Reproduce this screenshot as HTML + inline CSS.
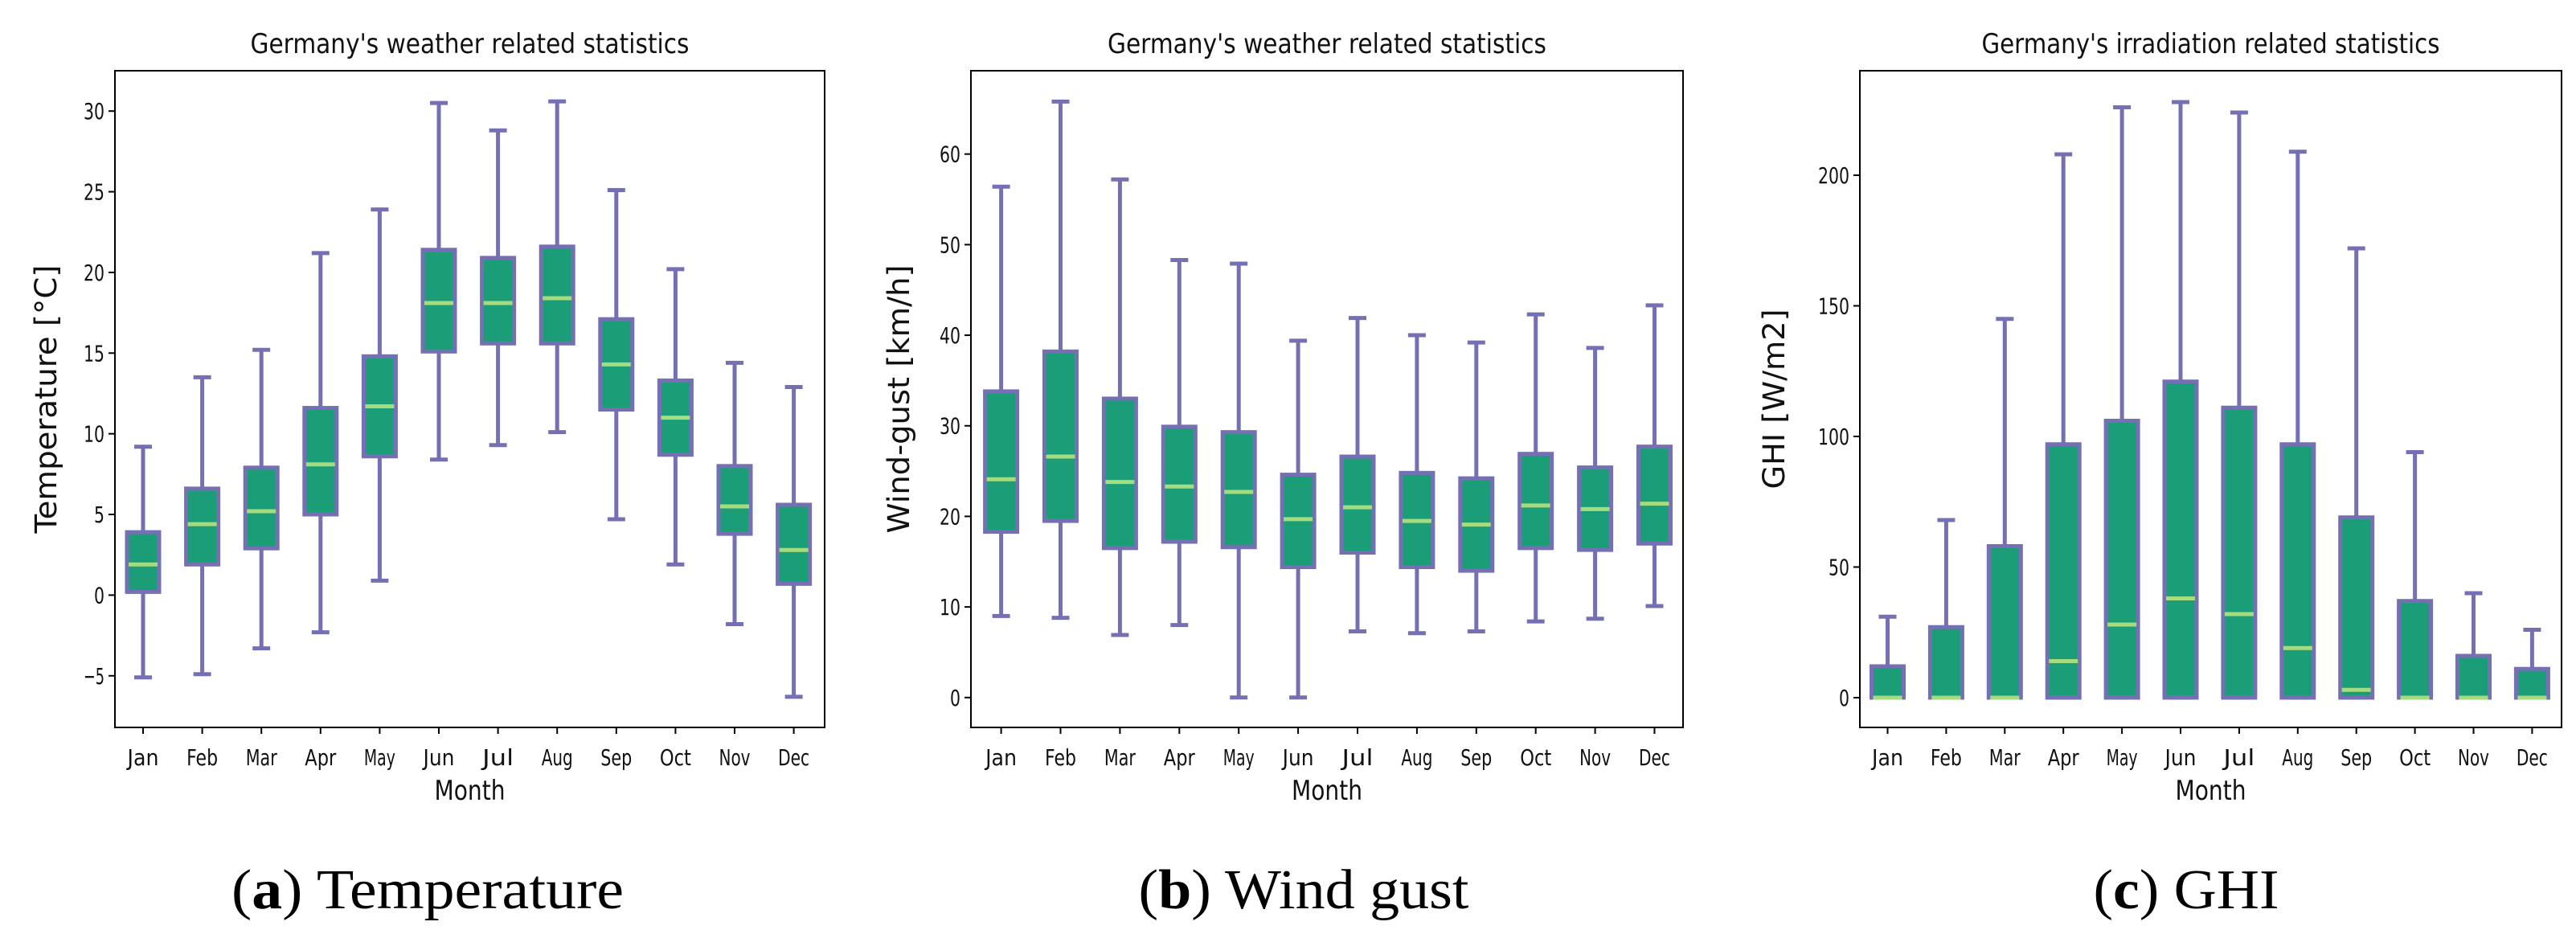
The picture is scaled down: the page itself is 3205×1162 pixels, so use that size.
<!DOCTYPE html>
<html><head><meta charset="utf-8"><style>
html,body{margin:0;padding:0;background:#fff;}
svg{display:block;font-family:"DejaVu Sans","Liberation Sans",sans-serif;}
</style></head><body>
<svg id="fig" width="3205" height="1162" viewBox="0 0 3205 1162" xmlns="http://www.w3.org/2000/svg"></svg>
<script>
const months = ["Jan","Feb","Mar","Apr","May","Jun","Jul","Aug","Sep","Oct","Nov","Dec"];
// temperature: [whisker low, q1, median, q3, whisker high]
const tempLo  = [-5.1,-4.9,-3.3,-2.3,0.9,8.4,9.3,10.1,4.7,1.9,-1.8,-6.3];
const tempQ1  = [0.2,1.9,2.9,5.0,8.6,15.1,15.6,15.6,11.5,8.7,3.8,0.7];
const tempMed = [1.9,4.4,5.2,8.1,11.7,18.1,18.1,18.4,14.3,11.0,5.5,2.8];
const tempQ3  = [3.9,6.6,7.9,11.6,14.8,21.4,20.9,21.6,17.1,13.3,8.0,5.6];
const tempHi  = [9.2,13.5,15.2,21.2,23.9,30.5,28.8,30.6,25.1,20.2,14.4,12.9];
const tempTicks = [-5,0,5,10,15,20,25,30];
const windLo  = [9.0,8.8,6.9,8.0,0,0,7.3,7.1,7.3,8.4,8.7,10.1];
const windQ1  = [18.3,19.5,16.5,17.2,16.6,14.4,16.0,14.4,14.0,16.5,16.3,17.0];
const windMed = [24.1,26.6,23.8,23.3,22.7,19.7,21.0,19.5,19.1,21.2,20.8,21.4];
const windQ3  = [33.8,38.2,33.0,29.9,29.3,24.6,26.6,24.8,24.2,26.9,25.4,27.7];
const windHi  = [56.4,65.8,57.2,48.3,47.9,39.4,41.9,40.0,39.2,42.3,38.6,43.3];
const windTicks = [0,10,20,30,40,50,60];
const ghiLo  = [0,0,0,0,0,0,0,0,0,0,0,0];
const ghiQ1  = [0,0,0,0,0,0,0,0,0,0,0,0];
const ghiMed = [0,0,0,14,28,38,32,19,3,0,0,0];
const ghiQ3  = [12,27,58,97,106,121,111,97,69,37,16,11];
const ghiHi  = [31,68,145,208,226,228,224,209,172,94,40,26];
const ghiTicks = [0,50,100,150,200];

const NS="http://www.w3.org/2000/svg";
const svg=document.getElementById('fig');
function mk(tag,attrs,parent){const e=document.createElementNS(NS,tag);for(const k in attrs)e.setAttribute(k,attrs[k]);(parent||svg).appendChild(e);return e;}
function txt(s,attrs,parent){const e=mk('text',attrs,parent);e.textContent=s;return e;}

function panel(cfg){
  const g=mk('g',{});
  
  
  const L=cfg.left,R=cfg.right,T=88,B=905;
  const y=v=>B-(v-cfg.ymin)/(cfg.ymax-cfg.ymin)*(B-T);
  const x=i=>cfg.x0+i*cfg.step;
  const t=txt(cfg.title,{x:(L+R)/2,y:66,'text-anchor':'middle','font-size':34,textLength:cfg.titleLen,lengthAdjust:'spacingAndGlyphs',fill:'#111'},g);
  
  
  cfg.ticks.forEach(v=>{
    mk('line',{x1:L-8,x2:L,y1:y(v),y2:y(v),stroke:'#000','stroke-width':2},g);
    const lbl=v<0?'\u2212'+Math.abs(v):String(v);
    const tl=txt(lbl,{x:L-13,y:y(v)+10,'text-anchor':'end','font-size':28,textLength:lbl.length*13,lengthAdjust:'spacingAndGlyphs',fill:'#111'},g);
    
    
  });
  months.forEach((m,i)=>{
    mk('line',{x1:x(i),x2:x(i),y1:B,y2:B+8,stroke:'#000','stroke-width':2},g);
    const tl=txt(m,{x:x(i),y:952,'text-anchor':'middle','font-size':28,textLength:m.length*13,lengthAdjust:'spacingAndGlyphs',fill:'#111'},g);
    
    
  });
  const xl=txt('Month',{x:(L+R)/2,y:995,'text-anchor':'middle','font-size':34,textLength:88,lengthAdjust:'spacingAndGlyphs',fill:'#111'},g);
  
  
  const yl=txt(cfg.ylabel,{x:0,y:0,'text-anchor':'middle','font-size':37,textLength:cfg.ylLen,lengthAdjust:'spacingAndGlyphs',fill:'#111',transform:`translate(${cfg.ylx},${(T+B)/2}) rotate(-90)`},g);
  
  
  const hw=20,cw=11,c='#7570b3';
  months.forEach((m,i)=>{
    const bg=mk('g',{},g);
    
    
    const cx=x(i),lo=y(cfg.lo[i]),q1=y(cfg.q1[i]),md=y(cfg.med[i]),q3=y(cfg.q3[i]),hi=y(cfg.hi[i]);
    mk('line',{x1:cx,x2:cx,y1:q1,y2:lo,stroke:c,'stroke-width':5},bg);
    mk('line',{x1:cx,x2:cx,y1:q3,y2:hi,stroke:c,'stroke-width':5},bg);
    mk('line',{x1:cx-cw,x2:cx+cw,y1:lo,y2:lo,stroke:c,'stroke-width':5},bg);
    mk('line',{x1:cx-cw,x2:cx+cw,y1:hi,y2:hi,stroke:c,'stroke-width':5},bg);
    mk('rect',{x:cx-hw,y:q3,width:2*hw,height:Math.max(q1-q3,0),fill:'#1b9e77',stroke:c,'stroke-width':5},bg);
    mk('line',{x1:cx-hw+2,x2:cx+hw-2,y1:md,y2:md,stroke:'#a6dc80','stroke-width':5},bg);
  });
  const f=mk('rect',{x:L,y:T,width:R-L,height:B-T,fill:'none',stroke:'#000','stroke-width':2},g);
  
  
  const cap=mk('text',{x:cfg.capX,y:1130,'text-anchor':'middle','font-size':70,textLength:cfg.capLen,lengthAdjust:'spacingAndGlyphs','font-family':'"Liberation Serif",serif',fill:'#000'});
  
  
  const b1=document.createElementNS(NS,'tspan');b1.textContent='(';cap.appendChild(b1);
  const b2=document.createElementNS(NS,'tspan');b2.setAttribute('font-weight','bold');b2.textContent=cfg.capLetter;cap.appendChild(b2);
  const b3=document.createElementNS(NS,'tspan');b3.textContent=') '+cfg.capText;cap.appendChild(b3);
}
panel({name:'temperature-chart',left:143,right:1026,ymin:-8.2,ymax:32.5,x0:178,step:73.6,title:"Germany's weather related statistics",titleLen:546,ticks:tempTicks,lo:tempLo,q1:tempQ1,med:tempMed,q3:tempQ3,hi:tempHi,ylabel:'Temperature [°C]',ylLen:334,ylx:70,capX:532,capLen:488,capLetter:'a',capText:'Temperature'});
panel({name:'wind-gust-chart',left:1208,right:2094,ymin:-3.3,ymax:69.2,x0:1245.6,step:73.9,title:"Germany's weather related statistics",titleLen:546,ticks:windTicks,lo:windLo,q1:windQ1,med:windMed,q3:windQ3,hi:windHi,ylabel:'Wind-gust [km/h]',ylLen:334,ylx:1131,capX:1622,capLen:411,capLetter:'b',capText:'Wind gust'});
panel({name:'ghi-chart',left:2314,right:3187,ymin:-11.4,ymax:240,x0:2348.5,step:72.9,title:"Germany's irradiation related statistics",titleLen:570,ticks:ghiTicks,lo:ghiLo,q1:ghiQ1,med:ghiMed,q3:ghiQ3,hi:ghiHi,ylabel:'GHI [W/m2]',ylLen:224,ylx:2220,capX:2720,capLen:231,capLetter:'c',capText:'GHI'});
</script>
</body></html>
